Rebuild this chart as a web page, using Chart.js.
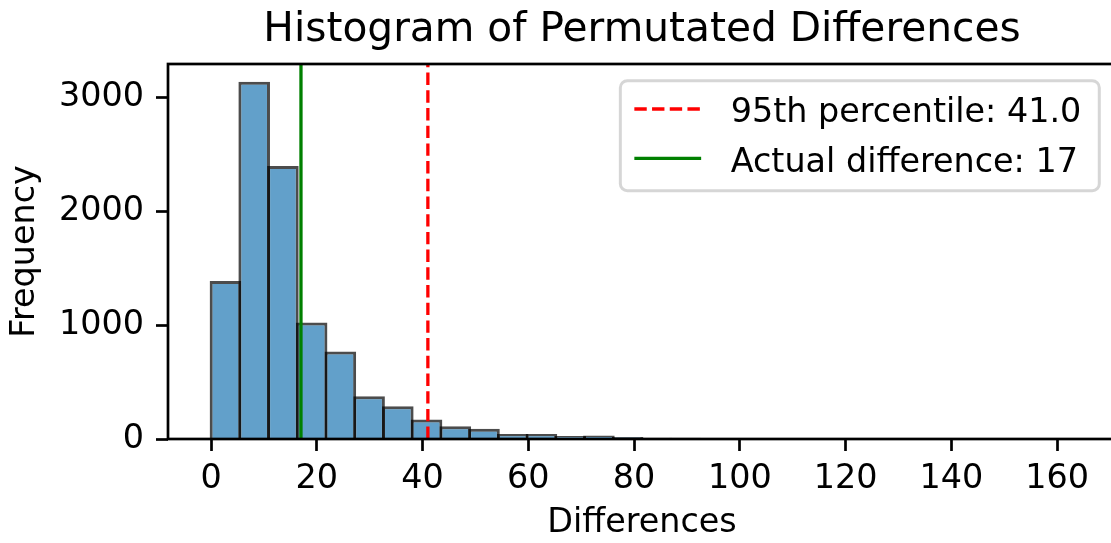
<!DOCTYPE html>
<html>
<head>
<meta charset="utf-8">
<title>Histogram of Permutated Differences</title>
<script src="https://cdn.jsdelivr.net/npm/chart.js@4.4.1/dist/chart.umd.min.js"></script>
<style>
  html, body { margin: 0; padding: 0; background: #fff; overflow: hidden; }
  #wrap { width: 1116px; height: 543px; }
</style>
</head>
<body>
<div id="wrap"><canvas id="histChart"></canvas></div>
<script>
// histogram: 30 equal bins between the smallest and largest difference
const binMin = 0;
const binMax = 163;
const binCounts = [1390, 3140, 2400, 1025, 770, 375, 287, 172, 111, 90,
                   44, 43, 27, 30, 17, 12, 10, 7, 6, 4,
                   4, 3, 2, 2, 1, 1, 1, 1, 0, 1];
const xTicks = [0, 20, 40, 60, 80, 100, 120, 140, 160];
const yTicks = [0, 1000, 2000, 3000];
const percentile95 = 41.0;
const actualDiff = 17;

const FONT = "DejaVu Sans";
const FS = 33.4; // ~10pt in the original figure

const binWidth = (binMax - binMin) / binCounts.length;
const barData = binCounts.map((c, i) => ({ x: binMin + (i + 0.5) * binWidth, y: c }));

// matplotlib style 5% margins
const xPad = (binMax - binMin) * 0.05;
const yMax = Math.max(...binCounts) * 1.05;

Chart.defaults.font.family = FONT;
Chart.defaults.color = "#000";

// spines, title and legend box drawn like matplotlib
const mplDecor = {
    id: "mplDecor",
    afterDatasetsDraw(chart) {
        const { ctx, chartArea: a } = chart;
        ctx.save();
        ctx.strokeStyle = "#000";
        ctx.lineWidth = 2.7;
        ctx.strokeRect(a.left, a.top, a.right - a.left, a.bottom - a.top);
        ctx.restore();
    },
    afterDraw(chart) {
        const { ctx, chartArea: a } = chart;
        ctx.save();

        // title
        ctx.fillStyle = "#000";
        ctx.font = `40.7px "${FONT}"`;
        ctx.textAlign = "center";
        ctx.textBaseline = "alphabetic";
        ctx.fillText("Histogram of Permutated Differences", (a.left + a.right) / 2, 41);

        // legend
        const items = chart.data.datasets.filter(d => d.type === "line");
        ctx.font = `${FS}px "${FONT}"`;
        const textW = Math.max(...items.map(d => ctx.measureText(d.label).width));
        const handleLen = 2 * FS;
        const boxW = 14 + handleLen + 29.6 + textW + 18;
        const boxH = 110;
        const boxR = a.right - 0.5 * FS;
        const boxL = boxR - boxW;
        const boxT = a.top + 0.5 * FS;
        ctx.beginPath();
        ctx.roundRect(boxL, boxT, boxW, boxH, 7);
        ctx.fillStyle = "rgba(255,255,255,0.8)";
        ctx.fill();
        ctx.strokeStyle = "rgba(204,204,204,0.8)";
        ctx.lineWidth = 3;
        ctx.stroke();

        items.forEach((d, i) => {
            const cy = boxT + 28.3 + i * 49.4;
            ctx.beginPath();
            ctx.setLineDash(d.borderDash || []);
            ctx.strokeStyle = d.borderColor;
            ctx.lineWidth = d.borderWidth;
            ctx.moveTo(boxL + 14, cy);
            ctx.lineTo(boxL + 14 + handleLen, cy);
            ctx.stroke();
            ctx.setLineDash([]);
            ctx.fillStyle = "#000";
            ctx.textAlign = "left";
            ctx.fillText(d.label, boxL + 14 + handleLen + 29.6, cy + 13.4);
        });
        ctx.restore();
    }
};

const canvas = document.getElementById("histChart");

new Chart(canvas, {
    type: "bar",
    data: {
        datasets: [
            {
                type: "line",
                label: `95th percentile: ${percentile95.toFixed(1)}`,
                data: [{ x: percentile95, y: 0 }, { x: percentile95, y: yMax }],
                borderColor: "#ff0000",
                borderWidth: 3.3,
                borderDash: [12.4, 5.3],
                pointRadius: 0,
                fill: false,
                order: 0
            },
            {
                type: "line",
                label: `Actual difference: ${actualDiff}`,
                data: [{ x: actualDiff, y: 0 }, { x: actualDiff, y: yMax }],
                borderColor: "#008000",
                borderWidth: 3.3,
                pointRadius: 0,
                fill: false,
                order: 1
            },
            {
                label: "Counts",
                data: barData,
                backgroundColor: "rgba(31,119,180,0.7)",
                borderColor: "rgba(0,0,0,0.7)",
                borderWidth: 3,
                borderSkipped: "start",
                barPercentage: 1.1,
                categoryPercentage: 1,
                order: 2
            }
        ]
    },
    options: {
        responsive: true,
        maintainAspectRatio: false,
        animation: false,
        layout: { padding: { top: 64, right: 0, bottom: 0, left: 0 } },
        plugins: {
            legend: { display: false },
            tooltip: { enabled: false }
        },
        scales: {
            x: {
                type: "linear",
                min: binMin - xPad,
                max: binMax + xPad,
                offset: false,
                afterBuildTicks: s => { s.ticks = xTicks.map(v => ({ value: v })); },
                afterFit: s => { s.height = 104; },
                grid: { offset: false, drawOnChartArea: false, drawTicks: true, tickLength: 12, tickWidth: 2.7, tickColor: "#000" },
                border: { display: false },
                ticks: { font: { size: FS }, color: "#000", padding: 8, maxRotation: 0, autoSkip: false,
                         callback: v => String(v) },
                title: { display: true, text: "Differences", font: { size: FS }, color: "#000", padding: 0 }
            },
            y: {
                min: 0,
                max: yMax,
                afterBuildTicks: s => { s.ticks = yTicks.map(v => ({ value: v })); },
                afterFit: s => { s.width = 168; },
                grid: { offset: false, drawOnChartArea: false, drawTicks: true, tickLength: 12, tickWidth: 2.7, tickColor: "#000" },
                border: { display: false },
                ticks: { font: { size: FS }, color: "#000", padding: 12, callback: v => String(v) },
                title: { display: true, text: "Frequency", font: { size: FS }, color: "#000", padding: { top: 5 } }
            }
        }
    },
    plugins: [mplDecor]
});
</script>
</body>
</html>
